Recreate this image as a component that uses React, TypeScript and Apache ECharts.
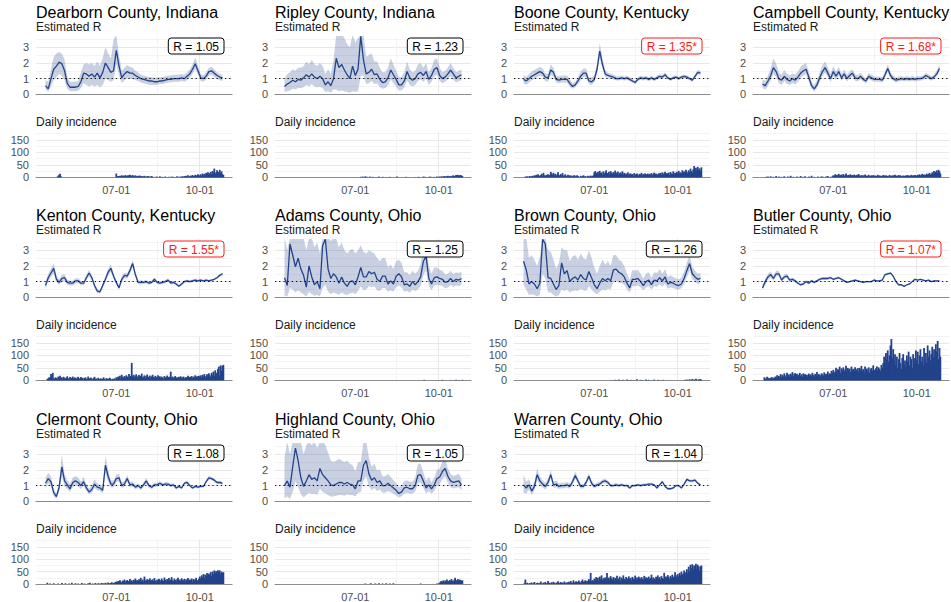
import React, { useEffect, useRef } from 'react';
import * as echarts from 'echarts';

// ---------- categories (daily, 2020-04-04 .. 2020-11-05) ----------
const AXIS_START_UTC = Date.UTC(2020, 3, 4);
const AXIS_DAYS = 216;
const DATA_OFFSET = 10; // first data day 04-14
const R_STEP = 3; // R estimates read every 3 days
const MAJOR_DATES = ['07-01', '10-01'];
const MINOR_DATES = ['05-16', '08-16'];
const R_TICKS = [0, 1, 2, 3];
const CASE_TICKS = [0, 50, 100, 150];

const counties = [
  'Dearborn County, Indiana', 'Ripley County, Indiana', 'Boone County, Kentucky', 'Campbell County, Kentucky',
  'Kenton County, Kentucky', 'Adams County, Ohio', 'Brown County, Ohio', 'Butler County, Ohio',
  'Clermont County, Ohio', 'Highland County, Ohio', 'Warren County, Ohio',
];
const latestR = [1.05, 1.23, 1.35, 1.68, 1.55, 1.25, 1.26, 1.07, 1.08, 1.05, 1.04];
const significant = [false, false, true, true, true, false, false, true, false, false, false];

// ---------- R estimates (mean / lower / upper) ----------
const rDearborn = [.55,.35,1.0,1.6,1.8,2.05,1.95,1.5,.7,.45, .45,.45,.5,.8,1.35,1.3,1.15,1.3,1.1,1.35, 1.05,1.4,2.0,1.7,1.4,1.5,2.8,1.8,1.05,1.3, 1.45,1.35,1.35,1.2,1.1,1.0,.95,.9,.85,.85, .8,.8,.85,.85,.9,.95,.95,1.0,1.0,1.0, 1.05,1.0,1.15,1.3,1.6,1.95,1.5,1.05,1.0,1.15, 1.45,1.5,1.35,1.2,1.1,1.05];
const loDearborn = [.3,.15,.5,.9,1.1,1.3,1.2,.9,.35,.2, .2,.2,.25,.4,.7,.6,.5,.6,.5,.6, .45,.6,1.0,.9,.8,.9,1.9,1.2,.7,.9, 1.05,1.0,1.0,.9,.85,.75,.7,.65,.6,.6, .6,.6,.65,.65,.7,.75,.75,.8,.8,.8, .85,.8,.9,1.05,1.3,1.6,1.25,.85,.8,.95, 1.2,1.25,1.1,1.0,.9,.85];
const hiDearborn = [.9,.8,1.6,2.4,2.6,2.7,2.6,2.2,1.1,.8, .8,.8,.85,1.4,1.9,2.0,1.9,2.0,1.8,2.1, 1.8,2.3,3.0,2.6,2.3,3.5,3.8,2.5,1.5,1.7, 1.85,1.75,1.7,1.5,1.4,1.25,1.2,1.15,1.1,1.1, 1.05,1.05,1.1,1.1,1.15,1.2,1.2,1.25,1.25,1.25, 1.3,1.25,1.4,1.6,1.9,2.35,1.8,1.3,1.2,1.4, 1.7,1.75,1.6,1.4,1.3,1.25];

const rRipley = [.5,.65,.75,.9,.8,.95,.9,1.05,1.25,1.1, 1.3,1.1,1.0,1.15,1.0,.6,.8,.55,1.0,2.3, 1.7,1.9,1.55,1.25,1.0,1.8,1.2,1.6,3.7,2.2, 1.3,1.4,1.6,1.25,1.3,.95,.75,.8,1.05,1.55, 1.25,.95,.6,.6,.85,1.45,1.05,.9,1.0,1.3, 1.4,1.2,1.45,.95,1.2,1.6,1.7,1.2,1.0,1.1, 1.3,1.55,1.3,1.05,1.15,1.25];
const loRipley = [.15,.2,.25,.35,.3,.4,.4,.45,.6,.5, .65,.5,.45,.5,.4,.15,.2,.1,.3,.3, .2,.25,.2,.15,.1,.2,.15,.2,1.2,1.2, .65,.7,.85,.65,.7,.45,.35,.4,.55,.95, .7,.5,.25,.25,.45,.9,.6,.5,.6,.85, .95,.8,1.0,.6,.8,1.15,1.25,.85,.7,.8, .95,1.15,.95,.75,.85,.9];
const hiRipley = [1.0,1.3,1.4,1.6,1.5,1.7,1.7,1.8,2.1,1.9, 2.2,1.9,1.8,2.0,1.8,1.3,1.6,1.3,2.2,3.8, 3.8,3.8,3.6,3.2,3.0,3.8,3.3,3.6,3.8,3.8, 2.4,2.5,2.6,2.1,2.1,1.7,1.4,1.4,1.7,2.3, 1.9,1.5,1.1,1.1,1.4,2.1,1.6,1.4,1.5,1.9, 2.0,1.7,2.0,1.4,1.7,2.2,2.3,1.7,1.4,1.5, 1.7,2.0,1.7,1.4,1.5,1.6];

const rBoone = [.95,.85,1.0,1.15,1.25,1.35,1.45,1.35,1.1,1.05, 1.55,1.4,.95,.9,.95,.95,.95,.7,.5,.6, .85,1.15,1.35,1.35,.85,.8,.95,1.6,2.75,1.9, 1.3,1.2,1.15,1.1,1.0,1.0,1.05,1.0,1.05,.95, .85,.75,.95,1.05,1.0,1.05,.95,1.05,.95,1.05, 1.15,1.1,1.25,1.05,.95,1.05,1.1,1.0,1.1,1.15, 1.1,1.0,.9,1.15,1.4,1.35];
const loBoone = [.7,.6,.75,.9,1.0,1.1,1.2,1.1,.85,.8, 1.25,1.1,.75,.7,.75,.75,.75,.5,.35,.45, .65,.9,1.1,1.1,.65,.6,.75,1.3,2.35,1.6, 1.1,1.05,1.0,.95,.88,.88,.92,.88,.92,.83, .74,.65,.83,.93,.88,.93,.84,.93,.84,.93, 1.03,.98,1.12,.94,.85,.94,.99,.9,1.0,1.04, 1.0,.9,.8,1.03,1.27,1.2];
const hiBoone = [1.25,1.1,1.3,1.45,1.55,1.65,1.75,1.65,1.35,1.3, 1.9,1.7,1.2,1.15,1.2,1.2,1.2,.95,.7,.8, 1.1,1.45,1.65,1.65,1.1,1.05,1.2,1.95,3.25,2.3, 1.55,1.38,1.32,1.27,1.15,1.14,1.2,1.13,1.19,1.08, .97,.86,1.08,1.18,1.13,1.18,1.07,1.18,1.07,1.18, 1.28,1.23,1.39,1.17,1.06,1.17,1.22,1.11,1.21,1.27, 1.21,1.11,1.0,1.28,1.53,1.5];

const rCampbell = [.65,.55,.85,1.2,1.7,1.45,1.0,.9,1.15,.95, .85,1.0,.9,1.1,1.35,1.5,1.6,1.1,.55,.35, .6,1.05,1.45,1.7,1.35,1.0,1.45,1.15,1.45,1.05, 1.3,1.0,1.2,1.35,1.05,1.0,1.15,.95,.85,1.15, 1.05,.95,.95,.95,.9,1.25,1.65,1.2,1.0,.9, .95,1.0,.95,1.0,.95,1.0,.95,1.0,1.0,1.05, 1.2,1.1,1.0,1.1,1.3,1.65];
const loCampbell = [.4,.3,.55,.85,1.3,1.1,.7,.6,.85,.65, .6,.72,.63,.8,1.05,1.2,1.28,.82,.35,.18, .38,.78,1.15,1.38,1.08,.78,1.18,.92,1.2,.85, 1.08,.82,1.0,1.13,.87,.83,.97,.8,.7,.97, .88,.8,.8,.8,.76,1.06,1.42,1.02,.85,.76, .81,.86,.81,.86,.82,.86,.82,.87,.87,.91, 1.05,.96,.87,.96,1.13,1.42];
const hiCampbell = [.95,.85,1.2,1.65,2.3,1.95,1.4,1.25,1.55,1.3, 1.2,1.35,1.25,1.45,1.75,1.9,2.0,1.45,.8,.6, .9,1.4,1.85,2.1,1.7,1.3,1.8,1.45,1.75,1.3, 1.58,1.25,1.45,1.6,1.28,1.22,1.37,1.15,1.03,1.37, 1.25,1.14,1.13,1.13,1.07,1.47,1.92,1.41,1.18,1.07, 1.12,1.17,1.11,1.17,1.11,1.16,1.1,1.16,1.15,1.2, 1.37,1.26,1.15,1.26,1.5,1.92];

const rKenton = [.75,1.25,1.55,1.85,1.15,.95,1.2,1.25,.95,.9, .9,1.05,1.05,.9,.9,1.25,1.55,1.25,.75,.4, .35,.75,1.15,1.6,1.85,1.35,.95,.6,1.15,1.4, 1.35,1.7,2.15,1.45,.95,.95,.95,1.0,.9,.95, 1.15,.95,.9,.95,1.0,1.1,.9,.95,.85,.7, .85,1.0,1.05,1.0,1.05,1.1,1.05,1.1,1.05,1.1, 1.05,1.1,1.15,1.25,1.4,1.5];
const loKenton = [.55,1.02,1.3,1.55,.95,.78,1.0,1.05,.8,.75, .76,.9,.9,.77,.77,1.08,1.35,1.08,.6,.28, .24,.6,.98,1.4,1.62,1.17,.8,.48,.98,1.22, 1.18,1.5,1.92,1.28,.82,.84,.84,.89,.8,.85, 1.03,.85,.8,.85,.9,.99,.81,.86,.76,.62, .76,.91,.96,.92,.97,1.02,.97,1.02,.98,1.03, .98,1.03,1.08,1.17,1.32,1.4];
const hiKenton = [.98,1.5,1.82,2.17,1.37,1.13,1.42,1.47,1.12,1.06, 1.05,1.21,1.21,1.04,1.04,1.43,1.76,1.43,.9,.53, .47,.91,1.33,1.81,2.09,1.54,1.1,.73,1.33,1.59, 1.53,1.91,2.4,1.63,1.08,1.07,1.06,1.12,1.0,1.06, 1.27,1.05,1.0,1.05,1.1,1.21,.99,1.04,.94,.78, .94,1.09,1.14,1.08,1.13,1.18,1.13,1.18,1.12,1.17, 1.12,1.17,1.22,1.33,1.48,1.6];

const rAdams = [1.25,.75,3.4,2.7,1.95,2.5,1.8,1.4,.65,2.0, 1.3,.8,1.0,.55,3.3,3.7,1.8,1.2,1.5,1.3, .9,1.3,.9,.7,1.0,1.05,.8,1.3,1.9,1.3, 1.3,1.65,1.5,1.6,1.15,1.0,1.35,1.35,.85,1.05, .85,1.35,1.5,1.3,.8,.85,.7,1.0,.8,1.0, 1.3,2.3,2.6,1.2,.85,1.25,1.3,1.2,1.15,.95, 1.0,1.2,1.0,1.15,1.1,1.2];
const loAdams = [.1,.05,.6,.5,.3,.45,.3,.2,.05,.35, .2,.1,.15,.05,.6,.8,.35,.2,.3,.25, .15,.3,.2,.15,.25,.3,.2,.4,.7,.45, .5,.7,.65,.7,.45,.4,.6,.6,.35,.45, .35,.65,.75,.65,.35,.4,.3,.5,.4,.5, .7,1.4,1.7,.7,.45,.75,.8,.75,.72,.58, .62,.78,.65,.75,.72,.8];
const hiAdams = [3.8,3.0,3.8,3.8,3.8,3.8,3.8,3.8,3.0,3.8, 3.8,3.2,3.5,2.8,3.8,3.8,3.8,3.6,3.8,3.7, 3.2,3.5,3.0,2.8,3.0,3.1,2.8,3.0,3.3,2.9, 2.8,3.0,2.9,2.8,2.5,2.3,2.5,2.5,1.9,2.1, 1.8,2.3,2.4,2.2,1.6,1.6,1.4,1.7,1.5,1.7, 2.1,3.3,3.6,2.0,1.5,1.9,1.9,1.75,1.7,1.45, 1.5,1.7,1.45,1.6,1.55,1.65];

const rBrown = [2.3,1.75,.85,1.0,.85,.55,.9,3.7,3.4,1.25, 1.2,.85,.5,.75,2.2,1.5,1.7,1.0,1.2,1.3, 1.1,1.45,1.2,1.1,1.65,1.25,.8,.55,.9,1.2, 1.05,1.2,1.05,1.75,1.8,1.6,1.5,1.3,.9,.6, 1.15,1.15,1.2,1.0,.75,1.0,1.1,.8,1.1,1.05, 1.25,1.05,1.3,.85,.95,.9,.8,.75,.85,1.2, 1.7,2.15,1.5,1.3,1.15,1.2];
const loBrown = [.8,.5,.15,.2,.15,.05,.15,1.5,1.2,.3, .3,.15,.05,.15,.5,.4,.5,.3,.4,.45, .4,.55,.45,.4,.7,.5,.3,.2,.35,.5, .45,.55,.5,.95,1.05,.95,.9,.8,.5,.3, .7,.7,.75,.62,.45,.62,.7,.5,.7,.67, .82,.68,.88,.55,.62,.6,.52,.5,.57,.85, 1.3,1.7,1.15,.98,.85,.9];
const hiBrown = [3.8,3.8,2.5,2.7,2.4,2.0,2.6,3.8,3.8,3.0, 2.9,2.4,1.8,2.2,3.2,3.0,3.0,2.3,2.6,2.7, 2.4,2.8,2.5,2.4,3.0,2.5,1.9,1.5,2.0,2.4, 2.1,2.3,2.0,2.7,2.7,2.4,2.3,2.0,1.5,1.1, 1.75,1.7,1.75,1.5,1.2,1.5,1.6,1.25,1.6,1.55, 1.8,1.5,1.8,1.3,1.4,1.3,1.2,1.15,1.25,1.65, 2.2,2.7,1.95,1.7,1.5,1.55];

const rButler = [.6,1.0,1.3,1.45,1.2,1.5,1.5,1.1,1.3,1.35, 1.1,1.15,1.05,.9,.8,.85,1.0,.9,1.05,.95, 1.05,1.15,1.2,1.2,1.2,1.25,1.15,1.2,1.25,1.15, 1.05,.95,1.0,1.05,1.1,1.05,1.0,.95,1.0,1.0, 1.0,1.1,1.05,1.05,1.1,1.45,1.5,1.55,1.35,1.0, .8,.8,.7,.8,.85,1.0,1.15,1.1,1.15,1.1, 1.05,1.1,1.0,1.05,1.05,1.05];
const loButler = [.45,.82,1.12,1.27,1.05,1.32,1.34,.98,1.16,1.21, .99,1.04,.95,.81,.72,.77,.91,.82,.96,.87, .96,1.06,1.11,1.11,1.12,1.16,1.07,1.12,1.17,1.07, .98,.89,.94,.99,1.03,.99,.94,.89,.94,.94, .94,1.04,.99,.99,1.04,1.38,1.43,1.48,1.29,.95, .76,.76,.66,.76,.81,.96,1.1,1.06,1.11,1.06, 1.01,1.06,.96,1.01,1.01,1.0];
const hiButler = [.78,1.2,1.5,1.65,1.37,1.7,1.68,1.24,1.45,1.5, 1.22,1.27,1.16,1.0,.89,.94,1.1,.99,1.15,1.04, 1.14,1.25,1.3,1.29,1.29,1.34,1.23,1.28,1.33,1.23, 1.12,1.02,1.06,1.11,1.17,1.11,1.06,1.01,1.06,1.06, 1.06,1.16,1.11,1.11,1.16,1.52,1.57,1.62,1.41,1.05, .84,.84,.74,.84,.89,1.04,1.2,1.14,1.19,1.14, 1.09,1.14,1.04,1.09,1.09,1.1];

const rClermont = [1.15,1.45,1.25,.55,.3,.9,2.2,1.3,1.05,.8, 1.2,1.3,1.2,1.0,1.25,.85,.6,.75,1.1,.9, .85,.7,2.3,1.6,1.1,1.1,1.45,1.5,1.0,1.1, 1.45,1.05,1.1,.9,1.0,.85,1.05,1.3,1.0,.9, 1.05,1.05,1.15,1.05,1.1,1.1,1.0,1.05,.85,.95, .85,1.15,1.2,1.0,.85,.95,.9,.95,.95,1.25, 1.5,1.45,1.35,1.2,1.2,1.15];
const loClermont = [.85,1.15,.95,.35,.15,.6,1.6,.95,.78,.58, .92,1.02,.95,.78,1.0,.65,.45,.55,.85,.7, .66,.52,1.8,1.25,.88,.9,1.22,1.28,.84,.93, 1.25,.9,.95,.77,.86,.73,.91,1.14,.87,.78, .92,.93,1.03,.94,.99,.99,.9,.95,.76,.86, .77,1.05,1.1,.91,.77,.87,.82,.87,.87,1.15, 1.39,1.35,1.25,1.11,1.11,1.05];
const hiClermont = [1.5,1.8,1.6,.8,.5,1.25,3.0,1.7,1.35,1.08, 1.52,1.62,1.5,1.27,1.55,1.1,.8,1.0,1.4,1.15, 1.08,.92,2.9,2.0,1.35,1.33,1.7,1.75,1.18,1.29, 1.68,1.22,1.27,1.05,1.15,.99,1.2,1.48,1.14,1.03, 1.19,1.18,1.28,1.17,1.22,1.22,1.11,1.16,.95,1.05, .94,1.26,1.31,1.1,.94,1.04,.99,1.04,1.04,1.36, 1.62,1.56,1.46,1.3,1.3,1.26];

const rHighland = [1.0,1.3,.9,2.2,3.4,2.6,1.5,.95,1.3,1.7, 1.4,1.5,1.3,2.1,1.7,1.5,1.3,1.05,1.0,1.1, 1.2,1.2,1.1,1.2,1.1,1.05,.8,1.3,1.3,2.3, 2.6,1.75,1.35,1.5,1.2,1.3,1.0,1.0,1.15,1.0, .85,.7,.5,.6,.85,.9,.8,.8,1.0,1.65, 1.7,1.3,.85,1.05,.8,1.05,1.45,1.55,1.9,2.1, 1.6,1.3,1.2,1.25,1.3,1.05];
const loHighland = [.2,.3,.15,.6,1.3,.9,.45,.25,.4,.55, .45,.5,.4,.8,.6,.5,.4,.3,.3,.35, .4,.4,.35,.45,.4,.4,.3,.55,.6,1.3, 1.6,.95,.7,.85,.65,.75,.55,.55,.65,.58, .48,.38,.25,.32,.5,.55,.48,.48,.62,1.15, 1.2,.85,.5,.65,.48,.65,.98,1.08,1.4,1.6, 1.15,.9,.82,.87,.9,.7];
const hiHighland = [2.8,3.8,3.0,3.8,3.8,3.8,3.8,3.0,3.6,3.8, 3.6,3.8,3.4,3.8,3.8,3.6,3.1,2.6,2.5,2.6, 2.7,2.6,2.5,2.6,2.4,2.3,1.9,2.5,2.5,3.8, 3.8,2.8,2.2,2.4,1.95,2.05,1.6,1.6,1.75,1.55, 1.35,1.15,.9,1.0,1.3,1.35,1.25,1.25,1.5,2.4, 2.4,1.85,1.3,1.55,1.2,1.5,2.0,2.1,2.5,2.8, 2.1,1.75,1.62,1.68,1.75,1.45];

const rWarren = [1.05,.85,1.05,.65,.95,1.7,1.3,1.1,.95,1.2, 1.7,1.05,1.1,.95,1.0,1.0,1.05,.95,1.25,1.65, 1.3,.95,.95,1.2,1.6,1.15,.95,1.05,1.1,1.25, 1.3,1.2,1.0,1.0,1.05,1.0,1.05,1.0,1.0,.85, 1.0,1.0,1.05,1.0,1.05,1.05,1.1,1.1,1.05,.85, 1.05,1.25,.95,.8,.8,.85,1.0,1.0,.85,1.1, 1.4,1.3,1.3,1.35,1.15,1.05];
const loWarren = [.55,.5,.75,.4,.7,1.35,1.05,.88,.75,.98, 1.45,.85,.9,.78,.83,.84,.88,.8,1.06,1.43, 1.12,.8,.81,1.04,1.42,1.0,.82,.92,.97,1.12, 1.17,1.08,.9,.9,.95,.91,.96,.91,.91,.77, .91,.92,.97,.92,.97,.97,1.02,1.02,.97,.78, .97,1.16,.88,.73,.73,.78,.93,.93,.78,1.02, 1.31,1.22,1.22,1.27,1.08,.98];
const hiWarren = [1.7,1.25,1.4,.95,1.25,2.1,1.6,1.35,1.17,1.45, 1.98,1.27,1.32,1.14,1.19,1.18,1.23,1.12,1.46,1.9, 1.5,1.11,1.1,1.37,1.8,1.31,1.09,1.19,1.24,1.39, 1.44,1.33,1.11,1.1,1.16,1.1,1.15,1.1,1.1,.94, 1.09,1.09,1.14,1.09,1.14,1.14,1.19,1.19,1.13,.93, 1.13,1.35,1.03,.88,.88,.93,1.08,1.08,.93,1.19, 1.5,1.39,1.39,1.44,1.23,1.13];

// ---------- daily incidence, 04-14 .. 10-27 ----------
const casesDearborn = [
0,0,0,0,0,0,0,0,0,0,0,0,0,2,6,10,14,4,0,0, 0,0,0,0,0,0,0,0,0,0,0,0,0,0,0,0,0,0,0,0,
0,0,0,0,0,0,0,0,0,0,0,0,0,0,0,0,0,0,0,0, 0,0,0,0,0,0,0,0,0,0,0,0,0,0,0,0,0,0,15,3,
5,2,6,4,8,3,7,5,9,4,6,8,5,10,7,4,9,6,3,8, 5,2,6,4,7,3,5,2,4,6,3,0,5,2,4,0,3,5,2,0,
0,2,0,3,0,0,4,1,0,2,0,0,3,0,1,0,2,0,0,3, 0,2,0,1,0,4,0,2,0,3,2,4,1,5,3,6,2,8,4,3,
7,5,9,4,6,10,5,8,12,6,8,12,6,15,9,14,7,18,11,20, 10,16,22,12,25,18,35,14,20,28,15,22,30,18,24,12,10];
const casesRipley = [
0,0,0,0,0,0,0,0,0,0,0,0,0,0,0,0,0,0,0,0, 0,0,0,0,0,0,0,0,0,0,0,0,0,0,0,0,0,0,0,0,
0,0,0,0,0,0,0,0,0,0,0,0,0,0,0,0,0,0,0,0, 0,0,0,0,0,0,0,0,0,0,0,0,0,0,0,0,0,0,0,0,
0,0,0,0,2,0,3,0,1,4,0,2,0,0,3,0,0,2,0,0, 0,1,0,0,3,0,0,0,2,0,0,0,0,1,0,0,2,0,0,0,
0,0,0,0,3,0,0,0,0,0,0,0,0,0,2,0,0,0,0,0, 0,0,0,0,1,0,0,0,2,0,0,0,0,3,0,2,0,0,1,0,
3,0,2,0,0,2,0,1,3,0,2,3,1,4,2,3,5,2,4,3, 6,2,5,4,3,6,8,5,4,9,7,10,6,8,9,7,5];
const casesBoone = [
0,0,3,2,4,1,3,5,2,4,6,3,8,5,10,4,12,7,5,9, 14,6,18,8,4,10,7,12,6,9,22,15,10,18,8,14,6,11,20,9,
5,13,7,17,4,8,12,3,6,10,5,8,3,7,2,6,9,4,3,8, 5,2,0,6,3,4,8,2,5,0,3,6,2,4,7,3,5,8,20,25,
14,18,22,12,26,16,20,10,24,15,19,28,13,17,22,11,25,18,14,21, 16,27,12,19,23,10,17,20,14,24,12,18,9,15,11,20,8,14,16,10,
13,7,17,12,9,15,11,6,14,10,18,8,13,11,16,7,12,15,9,14, 10,17,8,13,19,11,15,9,12,16,14,18,10,20,12,16,22,11,17,14,
19,9,21,15,13,24,12,18,16,22,14,26,17,20,15,28,19,24,18,30, 22,16,28,20,35,25,18,32,45,24,38,28,42,30,36,25,40];
const casesCampbell = [
0,0,0,0,2,0,3,0,0,4,0,0,2,0,0,5,0,0,3,0, 0,2,0,0,4,0,0,0,3,0,0,6,0,0,2,0,0,0,3,0,
0,0,5,0,0,2,0,4,0,0,0,3,0,0,6,0,0,2,0,0, 0,3,0,0,0,4,0,2,0,0,3,0,5,0,0,2,0,4,8,5,
12,6,10,4,14,7,9,11,5,13,8,6,15,9,4,10,7,12,6,9, 5,11,8,4,10,6,13,7,5,9,3,8,6,11,4,7,5,10,3,6,
8,4,9,5,7,3,6,10,4,8,5,6,3,9,7,4,8,5,6,3, 9,5,7,4,8,6,10,5,7,4,9,6,8,5,3,7,6,4,8,5,
9,6,7,4,10,6,8,5,9,7,6,10,8,12,7,9,14,8,11,6, 10,15,9,13,18,10,14,20,12,25,16,22,28,18,30,24,15];
const casesKenton = [
0,0,5,8,12,10,25,15,30,8,6,12,9,4,15,10,18,7,12,5, 14,9,6,11,16,8,4,13,7,10,15,6,12,9,5,11,14,4,8,13,
6,10,3,9,12,5,7,15,4,8,11,6,3,9,14,5,7,2,10,6, 4,8,3,6,12,5,2,9,4,7,3,10,5,2,6,4,8,3,12,8,
15,10,18,6,22,14,9,17,11,20,15,8,25,13,18,70,16,22,12,19, 24,10,16,21,13,18,27,11,15,20,9,17,23,14,12,19,8,16,22,13,
10,18,14,7,20,12,16,9,15,11,6,17,13,10,19,8,14,12,35,10, 15,8,13,17,9,12,6,14,10,16,8,12,15,7,11,13,9,18,10,14,
12,17,9,15,11,20,13,16,10,18,14,20,12,22,16,25,11,18,24,15, 28,20,13,30,22,35,18,40,25,30,45,55,20,60,38,58,62];
const casesAdams = [
0,0,0,0,0,0,0,0,0,0,0,0,0,0,0,0,0,0,0,0, 0,0,0,0,0,0,0,0,0,0,0,0,0,0,0,0,0,0,0,0,
0,0,0,0,0,0,0,0,0,0,0,0,0,0,0,0,0,0,0,0, 0,0,0,0,0,0,0,0,0,0,0,0,0,0,0,0,0,0,0,0,
0,0,0,0,0,0,0,0,0,0,0,0,0,0,0,0,0,0,0,0, 0,0,0,0,0,0,0,0,0,0,0,0,0,0,0,0,0,0,0,0,
0,0,0,0,0,0,0,0,0,0,0,0,0,0,0,0,0,0,0,0, 0,0,0,0,0,0,0,0,0,0,0,0,0,0,2,0,0,0,0,0,
0,0,0,0,0,0,0,0,0,1,0,0,0,0,2,0,0,0,0,0, 0,0,0,1,0,0,0,0,0,2,0,0,1,0,0,0,2];
const casesBrown = [
0,0,0,0,0,0,0,0,0,0,0,0,0,0,0,0,0,0,0,0, 0,0,0,0,0,0,0,0,0,0,0,0,0,0,0,0,0,0,0,0,
0,0,0,0,0,0,0,0,0,0,0,0,0,0,0,0,0,0,0,0, 0,0,0,0,0,0,0,0,0,0,0,0,0,0,0,0,0,0,0,0,
0,0,0,0,0,0,0,0,0,0,0,0,0,0,0,0,0,0,1,0, 0,2,0,1,0,3,0,0,1,0,2,0,0,0,3,0,1,0,0,2,
0,0,1,0,0,4,0,0,0,2,0,1,0,0,0,3,0,0,2,0, 0,1,0,0,3,0,0,0,2,0,0,1,0,0,2,0,0,0,0,0,
0,0,0,0,0,0,0,0,0,0,0,0,0,0,0,0,0,0,2,0, 3,0,1,4,0,2,5,0,3,1,6,2,0,4,3,5,2];
const casesButler = [
0,0,12,8,5,14,6,10,4,9,13,7,11,8,15,9,20,12,18,10, 25,14,22,16,28,12,20,30,18,24,15,27,21,33,17,25,29,19,26,14,
22,30,18,24,15,28,20,25,16,22,13,27,19,24,17,30,21,14,26,20, 33,18,25,22,15,28,24,19,32,20,26,23,35,21,28,25,38,30,42,28,
35,50,32,45,38,55,30,48,40,52,35,44,58,36,50,42,47,33,55,40, 46,38,52,30,44,49,35,50,42,58,38,45,32,55,40,47,36,52,30,44,
50,38,60,42,35,48,56,40,52,45,38,62,50,70,95,60,110,85,120,75, 100,140,166,90,125,80,105,60,95,50,85,110,70,45,90,105,65,80,55,100,
75,115,60,95,85,50,105,70,90,120,80,115,65,100,125,75,95,60,130,85, 110,70,140,95,120,80,105,135,90,125,100,145,115,158,85,130,95];
const casesClermont = [
0,0,5,0,0,2,0,0,0,3,0,0,0,0,2,0,0,0,4,0, 0,0,3,0,0,0,2,0,0,5,0,0,0,3,0,0,2,0,0,0,
4,0,0,2,0,0,0,3,0,5,0,0,2,0,0,4,0,0,3,0, 2,0,4,0,3,0,5,2,0,6,3,0,4,7,2,5,3,8,10,6,
12,8,15,9,5,14,11,18,7,13,16,9,12,20,10,15,8,17,13,22, 11,16,9,19,14,25,12,18,10,30,15,13,20,9,17,23,12,16,19,11,
24,14,9,18,13,21,16,10,22,15,12,26,17,11,20,14,24,13,18,28, 15,12,22,16,10,20,25,14,18,11,23,17,13,21,9,19,15,24,12,18,
16,22,10,20,14,19,25,15,13,21,30,22,35,28,40,25,38,32,45,30, 42,36,48,33,50,40,55,45,52,38,56,48,55,42,50,45,48];
const casesHighland = [
0,0,0,0,0,0,0,0,0,0,0,0,0,0,0,0,0,0,0,0, 0,0,0,0,0,0,0,0,0,0,0,0,0,0,0,0,0,0,0,0,
0,0,0,0,0,0,0,0,0,0,0,0,0,0,0,0,0,0,0,0, 0,0,0,0,0,0,0,0,0,0,0,0,0,0,0,0,0,0,0,0,
0,0,0,0,0,0,0,0,0,2,0,0,0,0,0,3,0,0,0,0, 2,0,0,0,3,0,0,0,2,0,0,0,3,0,0,0,2,0,0,0,
3,0,0,0,0,0,0,0,0,0,0,0,0,0,0,0,0,0,0,0, 0,0,0,0,0,0,0,0,0,0,2,0,0,0,0,0,0,0,0,0,
0,0,0,0,0,0,0,0,2,0,2,5,10,12,8,15,6,14,10,18, 9,12,16,11,20,13,10,17,25,12,15,20,14,18,16,12,15];
const casesWarren = [
0,3,18,0,5,2,0,4,0,6,0,3,8,0,2,5,0,4,0,10, 3,0,6,2,8,0,4,12,3,5,0,7,2,9,4,0,6,3,11,5,
2,8,4,6,3,10,5,2,7,4,9,3,12,6,4,15,5,8,11,6, 9,14,7,5,12,18,8,10,15,6,13,9,20,11,45,12,16,10,22,15,
28,18,25,12,30,20,35,16,24,19,27,14,45,21,26,17,32,23,18,28, 15,25,20,33,17,22,30,14,26,19,35,21,16,28,23,18,31,20,25,15,
29,22,18,34,20,26,16,30,24,19,28,22,17,33,21,27,18,25,30,20, 24,38,19,27,22,16,29,25,35,21,28,18,32,24,20,45,26,30,22,36,
28,19,33,25,38,27,30,48,35,25,40,30,45,35,50,38,42,55,33,48, 60,45,70,52,78,65,80,58,75,68,82,60,78,70,55,72,75];

const rMeans = [rDearborn, rRipley, rBoone, rCampbell, rKenton, rAdams, rBrown, rButler, rClermont, rHighland, rWarren];
const rLows = [loDearborn, loRipley, loBoone, loCampbell, loKenton, loAdams, loBrown, loButler, loClermont, loHighland, loWarren];
const rHighs = [hiDearborn, hiRipley, hiBoone, hiCampbell, hiKenton, hiAdams, hiBrown, hiButler, hiClermont, hiHighland, hiWarren];
const dailyCases = [casesDearborn, casesRipley, casesBoone, casesCampbell, casesKenton, casesAdams, casesBrown, casesButler, casesClermont, casesHighland, casesWarren];

// ---------- layout & style ----------
const COL_LEFT = [36, 275, 514, 753];
const ROW_TOP = [0, 203, 407];
const PLOT_W = 196;
const R_TOP = 36, R_H = 58.3, R_MAX = 3.72;
const INC_TOP = 132.5, INC_H = 44.8, INC_MAX = 180;
const FONT = '"Liberation Sans", Arial, Helvetica, sans-serif';
const LINE_COLOR = '#22438b';
const RIBBON = 'rgba(34,67,139,0.25)';
const GRID_MAJOR = '#e8e8e8';
const GRID_MINOR = '#f3f3f3';
const AXIS_COLOR = '#8c8c8c';
const TICK_COLOR = '#4d4d4d';

function buildCategories(): string[] {
  const out: string[] = [];
  for (let i = 0; i < AXIS_DAYS; i++) {
    const d = new Date(AXIS_START_UTC + i * 86400000);
    out.push(String(d.getUTCMonth() + 1).padStart(2, '0') + '-' + String(d.getUTCDate()).padStart(2, '0'));
  }
  return out;
}

function textWidth(s: string, font: string): number {
  const c = document.createElement('canvas').getContext('2d');
  if (!c) return s.length * 6.5;
  c.font = font;
  return c.measureText(s).width;
}

function buildOption() {
  const categories = buildCategories();
  const grids: any[] = [], xAxes: any[] = [], yAxes: any[] = [], series: any[] = [], elements: any[] = [];

  const addXAxes = (g: number, labels: boolean) => {
    xAxes.push({
      type: 'category', gridIndex: g, data: categories, boundaryGap: true, position: 'bottom',
      axisLine: { show: true, onZero: false, lineStyle: { color: AXIS_COLOR, width: 1.2 } },
      axisTick: { show: false },
      axisLabel: { show: labels, interval: (_i: number, v: string) => MAJOR_DATES.includes(v), color: TICK_COLOR, fontSize: 11, margin: 7, fontFamily: FONT },
      splitLine: { show: true, showMinLine: false, showMaxLine: false, interval: (_i: number, v: string) => MAJOR_DATES.includes(v), lineStyle: { color: GRID_MAJOR, width: 1 } },
    });
    xAxes.push({
      type: 'category', gridIndex: g, data: categories, boundaryGap: true, position: 'bottom',
      axisLine: { show: false }, axisTick: { show: false }, axisLabel: { show: false },
      splitLine: { show: true, showMinLine: false, showMaxLine: false, interval: (_i: number, v: string) => MINOR_DATES.includes(v), lineStyle: { color: GRID_MINOR, width: 1 } },
    });
  };

  counties.forEach((name, i) => {
    const col = i % 4, row = Math.floor(i / 4);
    const left = COL_LEFT[col], top0 = ROW_TOP[row];
    const gR = 2 * i, gI = 2 * i + 1;
    grids.push({ left, top: top0 + R_TOP, width: PLOT_W, height: R_H });
    grids.push({ left, top: top0 + INC_TOP, width: PLOT_W, height: INC_H });
    addXAxes(gR, false);
    addXAxes(gI, true);
    yAxes.push({
      type: 'value', gridIndex: gR, min: 0, max: R_MAX, interval: 0.5,
      axisLine: { show: false }, axisTick: { show: false },
      axisLabel: { showMaxLabel: false, color: TICK_COLOR, fontSize: 11, margin: 7, fontFamily: FONT, formatter: (v: number) => (R_TICKS.includes(v) ? String(v) : '') },
      splitLine: { show: true, showMaxLine: false, lineStyle: { color: [GRID_MAJOR, GRID_MINOR], width: 1 } },
    });
    yAxes.push({
      type: 'value', gridIndex: gI, min: 0, max: INC_MAX, interval: 25,
      axisLine: { show: false }, axisTick: { show: false },
      axisLabel: { showMaxLabel: false, color: TICK_COLOR, fontSize: 11, margin: 7, fontFamily: FONT, formatter: (v: number) => (CASE_TICKS.includes(v) ? String(v) : '') },
      splitLine: { show: true, showMaxLine: false, lineStyle: { color: [GRID_MAJOR, GRID_MINOR], width: 1 } },
    });

    const lo = rLows[i], hi = rHighs[i], mean = rMeans[i];
    const xR = (k: number) => DATA_OFFSET + k * R_STEP;
    const stack = 'ci' + i;
    series.push({
      type: 'line', xAxisIndex: 4 * i, yAxisIndex: gR, stack, symbol: 'none', silent: true, z: 1,
      lineStyle: { width: 0, opacity: 0 }, data: lo.map((v, k) => [xR(k), v]),
    });
    series.push({
      type: 'line', xAxisIndex: 4 * i, yAxisIndex: gR, stack, symbol: 'none', silent: true, z: 1,
      lineStyle: { width: 0, opacity: 0 }, areaStyle: { color: RIBBON, opacity: 1 },
      data: lo.map((v, k) => [xR(k), Math.max(0, +(hi[k] - v).toFixed(3))]),
    });
    series.push({
      type: 'line', xAxisIndex: 4 * i, yAxisIndex: gR, symbol: 'none', silent: true, z: 3,
      lineStyle: { color: LINE_COLOR, width: 1.3 }, data: mean.map((v, k) => [xR(k), v]),
      markLine: {
        silent: true, symbol: ['none', 'none'], label: { show: false },
        lineStyle: { color: '#000', type: [1.2, 3], width: 1.2 }, data: [{ yAxis: 1 }],
      },
    });
    series.push({
      type: 'bar', xAxisIndex: 4 * i + 2, yAxisIndex: gI, silent: true, barWidth: 1.8,
      itemStyle: { color: LINE_COLOR },
      data: dailyCases[i].map((v, d) => [DATA_OFFSET + d, v > 0 ? v : '-']),
    });

    // texts
    elements.push({ type: 'text', x: left, y: top0 + 4.3, silent: true, style: { text: name, font: `16px ${FONT}`, fill: '#000', align: 'left', verticalAlign: 'top' } });
    elements.push({ type: 'text', x: left, y: top0 + 20.8, silent: true, style: { text: 'Estimated R', font: `12px ${FONT}`, fill: '#1a1a1a', align: 'left', verticalAlign: 'top' } });
    elements.push({ type: 'text', x: left, y: top0 + 122, silent: true, style: { text: 'Daily incidence', font: `12px ${FONT}`, fill: '#1a1a1a', align: 'left', verticalAlign: 'middle' } });

    const sig = significant[i];
    const label = 'R = ' + latestR[i].toFixed(2) + (sig ? '*' : '');
    const labFont = `12px ${FONT}`;
    const w = textWidth(label, labFont) + 10;
    const boxRight = left + PLOT_W - 8;
    const boxTop = top0 + R_TOP + 2;
    const color = sig ? '#ff1a1a' : '#000';
    elements.push({ type: 'rect', silent: true, z: 10, shape: { x: boxRight - w, y: boxTop, width: w, height: 16, r: 3 }, style: { fill: '#fff', stroke: color, lineWidth: 1 } });
    elements.push({ type: 'text', silent: true, z: 11, x: boxRight - w / 2, y: boxTop + 8.5, style: { text: label, font: labFont, fill: color, align: 'center', verticalAlign: 'middle' } });
  });

  return {
    animation: false,
    backgroundColor: '#ffffff',
    textStyle: { fontFamily: FONT },
    grid: grids, xAxis: xAxes, yAxis: yAxes, series,
    graphic: { elements },
  };
}

export default function App() {
  const ref = useRef<HTMLDivElement>(null);
  useEffect(() => {
    if (!ref.current) return;
    const chart = echarts.init(ref.current, undefined, { renderer: 'svg' });
    chart.setOption(buildOption() as any);
    return () => chart.dispose();
  }, []);
  return <div ref={ref} style={{ position: 'fixed', left: 0, top: 0, width: 951, height: 602, background: '#fff' }} />;
}
